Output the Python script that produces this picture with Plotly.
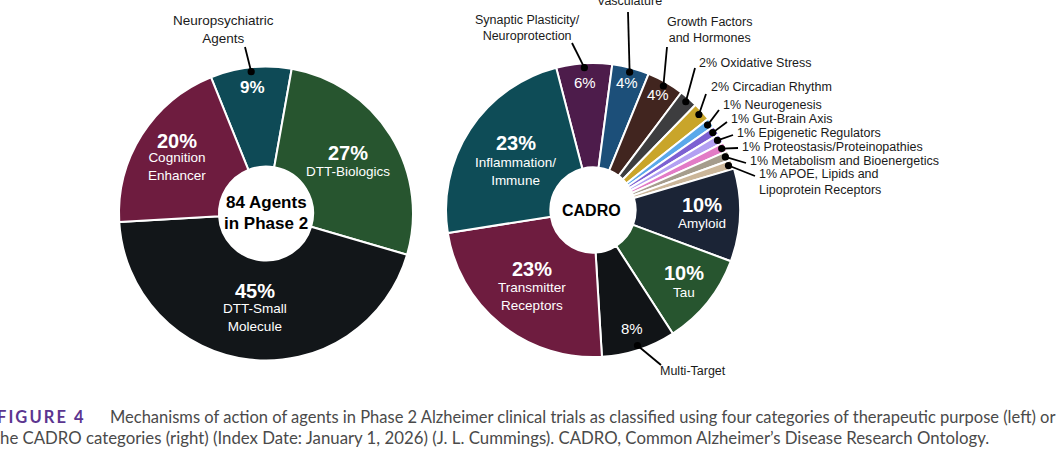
import math
import plotly.graph_objects as go

W, H = 1063, 460

# ---------------- data ----------------
left_categories = ["Neuropsychiatric Agents", "DTT-Biologics", "DTT-Small Molecule", "Cognition Enhancer"]
left_display = ["Neuropsychiatric<br>Agents", "DTT-Biologics", "DTT-Small<br>Molecule", "Cognition<br>Enhancer"]
left_values = [9, 27, 45, 20]
left_center_lines = ["84 Agents", "in Phase 2"]

right_categories = [
    "Synaptic Plasticity/Neuroprotection", "Vasculature", "Growth Factors and Hormones",
    "Oxidative Stress", "Circadian Rhythm", "Neurogenesis", "Gut-Brain Axis",
    "Epigenetic Regulators", "Proteostasis/Proteinopathies", "Metabolism and Bioenergetics",
    "APOE, Lipids and Lipoprotein Receptors", "Amyloid", "Tau", "Multi-Target",
    "Transmitter Receptors", "Inflammation/Immune",
]
right_display = [
    "Synaptic Plasticity/<br>Neuroprotection", "Vasculature", "Growth Factors<br>and Hormones",
    "Oxidative Stress", "Circadian Rhythm", "Neurogenesis", "Gut-Brain Axis",
    "Epigenetic Regulators", "Proteostasis/Proteinopathies", "Metabolism and Bioenergetics",
    "APOE, Lipids and<br>Lipoprotein Receptors", "Amyloid", "Tau", "Multi-Target",
    "Transmitter<br>Receptors", "Inflammation/<br>Immune",
]
right_values = [6, 4, 4, 2, 2, 1, 1, 1, 1, 1, 1, 10, 10, 8, 23, 23]
right_center_text = "CADRO"

caption_label = "FIGURE 4"
caption_line1 = ("Mechanisms of action of agents in Phase 2 Alzheimer clinical trials as classified "
                 "using four categories of therapeutic purpose (left) or")
caption_line2 = ("the CADRO categories (right) (Index Date: January 1, 2026) (J. L. Cummings). "
                 "CADRO, Common Alzheimer\u2019s Disease Research Ontology.")

# ---------------- styles / layout ----------------
left_colors = ["#0e4a56", "#27552f", "#121619", "#6e1c3f"]
right_colors = ["#4d1c4b", "#1c4f79", "#41251f", "#3d3d3f", "#c9a52a", "#5aa8ea",
                "#7c60d2", "#b3a0f2", "#e27bc6", "#a59c8c", "#cbb699",
                "#1b2436", "#27552f", "#111417", "#6e1c3f", "#0e4c57"]

LEFT = dict(cx=266, cy=213.5, r=147, rot=-22, hole=0.32)
RIGHT = dict(cx=593, cy=210, r=147, rot=-14.5, hole=0.29)

FONT = "Arial, Liberation Sans, sans-serif"
CAP_FONT = "Lato, sans-serif"

# label style per slice: 'block' (bold pct + name inside), 'pin' (pct inside, name outside),
# 'out' (pct + name outside)
left_style = ["pin", "block", "block", "block"]
left_rfrac = [0.86, 0.66, 0.63, 0.72]
left_pct_shift = [0, -9, -15, -16]
left_name_shift = [0, 9, 12, 10]
# outside label placement: index -> (text x, text y, xanchor, line end x, line end y)
left_out = {0: (223, 30, "center", 245, 47)}

right_style = ["pin", "pin", "pin", "out", "out", "out", "out", "out", "out", "out", "out",
               "block", "block", "pin", "block", "block"]
right_rfrac = [0.87, 0.90, 0.90, 0, 0, 0, 0, 0, 0, 0, 0, 0.74, 0.79, 0.85, 0.66, 0.63]
right_pct_shift = [0] * 11 + [-9, -10, 0, -17, -16]
right_name_shift = [0] * 11 + [10, 10, 0, 11, 12]
right_out = {
    0: (527, 28, "center", 572, 43),
    1: (629, 1, "center", 628, 12),
    2: (709, 30, "center", 667, 47),
    3: (697, 63, "left", 695, 68),
    4: (709, 87, "left", 706, 94),
    5: (721, 105, "left", 719, 110),
    6: (729, 119, "left", 727, 122),
    7: (735, 133, "left", 733, 135),
    8: (740, 147, "left", 738, 148),
    9: (748, 161, "left", 746, 163),
    10: (757, 182, "left", 755, 176),
    13: (658, 371, "left", 661, 365),
}
DOT_FRAC = 0.97


def px(x):
    return x / W


def py(y):
    return 1 - y / H


def mid_angles(values, rot):
    tot = float(sum(values))
    acc = rot
    out = []
    for v in values:
        span = 360.0 * v / tot
        out.append(acc + span / 2)
        acc += span
    return out


def polar(g, frac, deg):
    a = math.radians(deg)
    return g["cx"] + g["r"] * frac * math.sin(a), g["cy"] - g["r"] * frac * math.cos(a)


fig = go.Figure()
annotations = []
shapes = []


def add_text(x, y, text, size, color="black", xanchor="center", yanchor="middle",
             align="center", family=FONT):
    annotations.append(dict(
        x=px(x), y=py(y), xref="paper", yref="paper", text=text, showarrow=False,
        xanchor=xanchor, yanchor=yanchor, align=align,
        font=dict(family=family, size=size, color=color),
    ))


def add_pie(g, labels, values, colors):
    fig.add_trace(go.Pie(
        labels=labels, values=values, sort=False, direction="clockwise",
        rotation=g["rot"], hole=g["hole"],
        marker=dict(colors=colors, line=dict(color="white", width=2)),
        textinfo="none", hoverinfo="label+value", showlegend=False,
        domain=dict(x=[px(g["cx"] - g["r"]), px(g["cx"] + g["r"])],
                    y=[py(g["cy"] + g["r"]), py(g["cy"] - g["r"])]),
    ))


def add_labels(g, values, display, style, rfrac, pshift, nshift, outs,
               big, sub, pin_size, pin_bold, out_size):
    mids = mid_angles(values, g["rot"])
    for i, v in enumerate(values):
        pct = f"{v}%"
        st = style[i]
        if st == "block":
            bx, by = polar(g, rfrac[i], mids[i])
            add_text(bx, by + pshift[i], f"<b>{pct}</b>", big, "white")
            add_text(bx, by + nshift[i], display[i], sub, "white")
        elif st == "pin":
            bx, by = polar(g, rfrac[i], mids[i])
            add_text(bx, by, f"<b>{pct}</b>" if pin_bold else pct, pin_size, "white")
        if st in ("pin", "out"):
            tx, ty, xa, lx, ly = outs[i]
            txt = display[i] if st == "pin" else f"{pct} {display[i]}"
            add_text(tx, ty, txt, out_size, "#1a1a1a", xanchor=xa,
                     align="left" if xa == "left" else "center")
            dx, dy = polar(g, DOT_FRAC, mids[i])
            shapes.append(dict(type="line", xref="paper", yref="paper",
                               x0=px(dx), y0=py(dy), x1=px(lx), y1=py(ly),
                               line=dict(color="black", width=1.8)))
            rr = 3.6
            shapes.append(dict(type="circle", xref="paper", yref="paper",
                               x0=px(dx - rr), x1=px(dx + rr), y0=py(dy + rr), y1=py(dy - rr),
                               fillcolor="black", line=dict(color="black", width=0)))


add_pie(LEFT, left_categories, left_values, left_colors)
add_pie(RIGHT, right_categories, right_values, right_colors)

add_labels(LEFT, left_values, left_display, left_style, left_rfrac, left_pct_shift,
           left_name_shift, left_out, big=20, sub=13.5, pin_size=17, pin_bold=True, out_size=13.5)
add_labels(RIGHT, right_values, right_display, right_style, right_rfrac, right_pct_shift,
           right_name_shift, right_out, big=20, sub=13.5, pin_size=15, pin_bold=False, out_size=12.5)

# centre texts
add_text(LEFT["cx"], LEFT["cy"] - 11, f"<b>{left_center_lines[0]}</b>", 17)
add_text(LEFT["cx"], LEFT["cy"] + 10, f"<b>{left_center_lines[1]}</b>", 17)
add_text(RIGHT["cx"] - 2, RIGHT["cy"], f"<b>{right_center_text}</b>", 16)

# caption
spaced_label = "\u200a\u200a".join(caption_label)
add_text(-5, 417, f"<b>{spaced_label}</b>", 16.5, "#5b3590", xanchor="left", family=CAP_FONT)
add_text(108, 417, caption_line1, 16.5, "#4a4a4a", xanchor="left", family=CAP_FONT)
add_text(-8, 437, caption_line2, 16.8, "#4a4a4a", xanchor="left", family=CAP_FONT)

fig.update_layout(
    width=W, height=H, margin=dict(l=0, r=0, t=0, b=0),
    paper_bgcolor="white", plot_bgcolor="white",
    annotations=annotations, shapes=shapes, showlegend=False,
)

fig.write_html("out.html", config={"displayModeBar": False},
               post_script="document.body.style.margin='0';")
